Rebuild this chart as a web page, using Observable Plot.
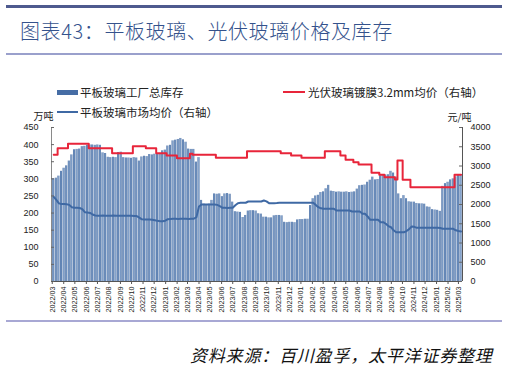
<!DOCTYPE html>
<html><head><meta charset="utf-8">
<script src="https://cdn.jsdelivr.net/npm/d3@7"></script>
<script src="https://cdn.jsdelivr.net/npm/@observablehq/plot@0.6"></script>
<style>
body{margin:0;width:507px;height:371px;position:relative;background:#fff;overflow:hidden;font-family:"Noto Sans CJK SC",sans-serif;}
.abs{position:absolute;}
#topline{left:6px;top:5px;width:496px;height:3px;background:#4e5a8e;}
#title{left:20px;top:17px;font-size:20px;letter-spacing:0.6px;color:#34528c;line-height:28px;white-space:nowrap;font-weight:300;}
#tline{left:6px;top:53px;width:496px;height:1.5px;background:#9aa0cc;}
.lg{font-size:11.5px;color:#222;line-height:14px;white-space:nowrap;}
.sw{position:absolute;}
#chart{left:0;top:100px;}
#bline{left:6px;top:320px;width:496px;height:2px;background:#a8a8d4;}
#src{left:190px;top:343px;font-size:17px;font-style:italic;letter-spacing:0.8px;color:#111;line-height:24px;white-space:nowrap;}
</style>
</head><body>
<div id="topline" class="abs"></div>
<div id="title" class="abs">图表43：平板玻璃、光伏玻璃价格及库存</div>
<div id="tline" class="abs"></div>

<div class="sw" style="left:57px;top:89.5px;width:21px;height:5px;background:#466da5;"></div>
<div class="abs lg" style="left:80px;top:85px;">平板玻璃工厂总库存</div>
<div class="sw" style="left:283px;top:91px;width:22px;height:2px;background:#e8253a;"></div>
<div class="abs lg" style="left:308px;top:85px;">光伏玻璃镀膜3.2mm均价（右轴）</div>
<div class="sw" style="left:57px;top:111px;width:21px;height:2px;background:#3f69a4;"></div>
<div class="abs lg" style="left:80px;top:105px;">平板玻璃市场均价（右轴）</div>

<div id="chart" class="abs"></div>
<div id="bline" class="abs"></div>
<div id="src" class="abs">资料来源：百川盈孚，太平洋证券整理</div>

<script>
const startDate = "2022-03-05";
// 平板玻璃工厂总库存（万吨），周度
const inventory = [
 300,302,308,322,331,338,352,370,385,386,
 387,394,395,398,399,399,398,399,398,376,
 374,363,362,363,362,377,378,362,361,361,
 360,362,361,352,364,366,365,371,370,372,
 371,372,382,384,396,398,411,413,415,418,
 414,407,387,386,386,349,362,237,226,225,
 226,237,256,255,256,248,256,257,255,232,
 204,203,202,187,193,206,207,207,206,198,
 197,188,188,186,186,192,193,193,192,173,
 172,173,173,172,180,181,181,182,182,222,
 242,250,252,260,262,271,281,264,263,261,
 262,261,261,262,260,261,262,270,280,281,
 282,290,296,305,297,298,309,310,311,312,
 322,317,305,256,242,251,242,233,232,232,
 228,227,227,226,218,217,210,209,208,205,
 278,286,290,297,300,306,310,312
];
// 平板玻璃市场均价（元/吨，右轴）
const glassPrice = [
 2200,2120,2030,2010,2010,2005,1990,1930,1915,1915,
 1910,1880,1800,1790,1780,1740,1715,1710,1710,1712,
 1710,1708,1710,1712,1710,1710,1708,1710,1710,1706,
 1705,1700,1700,1660,1615,1610,1608,1610,1605,1590,
 1575,1567,1567,1580,1620,1625,1628,1628,1625,1628,
 1628,1628,1626,1628,1630,1670,1948,2000,2000,2002,
 2000,2000,2000,1990,1960,1914,1914,1912,1914,1914,
 1980,2034,2044,2044,2046,2078,2078,2080,2078,2080,
 2078,2104,2080,2034,2034,2034,2036,2044,2044,2044,
 2044,2044,2044,2044,2044,2046,2044,2044,2044,2044,
 2044,1990,1930,1900,1890,1888,1888,1888,1888,1844,
 1844,1844,1844,1844,1844,1818,1818,1818,1818,1760,
 1760,1690,1602,1602,1602,1602,1540,1540,1500,1440,
 1410,1330,1280,1280,1280,1280,1310,1360,1428,1420,
 1394,1394,1394,1394,1394,1394,1394,1394,1394,1390,
 1370,1370,1370,1370,1368,1330,1310,1300
];
// 光伏玻璃镀膜3.2mm均价（元/吨，右轴）
const pvPrice = [
 3290,3290,3463,3463,3463,3463,3577,3577,3577,3577,
 3577,3577,3577,3577,3463,3463,3463,3463,3463,3463,
 3463,3463,3463,3333,3333,3333,3333,3333,3333,3333,
 3333,3515,3515,3515,3515,3515,3463,3463,3463,3463,
 3333,3333,3333,3333,3273,3273,3273,3273,3203,3203,
 3203,3203,3203,3316,3290,3290,3290,3290,3290,3290,
 3290,3290,3290,3212,3212,3212,3212,3212,3212,3212,
 3212,3212,3212,3212,3212,3385,3385,3385,3385,3385,
 3385,3385,3385,3385,3385,3385,3385,3385,3333,3333,
 3333,3333,3273,3273,3273,3273,3212,3212,3212,3212,
 3212,3212,3212,3212,3212,3385,3385,3385,3385,3385,
 3385,3273,3273,3160,3160,3160,3100,3100,3040,3040,
 3040,3040,3040,2823,2823,2823,2770,2770,2710,2710,
 2710,2710,2650,3143,3143,2640,2640,2640,2450,2450,
 2450,2450,2450,2450,2450,2450,2450,2450,2450,2450,
 2450,2450,2450,2450,2450,2770,2770,2770
];
const leftTicks = [0,50,100,150,200,250,300,350,400,450];
const rightTicks = [0,500,1000,1500,2000,2500,3000,3500,4000];
const xStart = new Date("2022-02-27"), xEnd = new Date("2025-03-12");
const monthTicks = d3.utcMonth.range(new Date("2022-03-01"), new Date("2025-03-02"));
const RATIO = 450 / 4000;

const rows = inventory.map((v, i) => {
  const d = d3.utcDay.offset(new Date(startDate), 7 * i);
  return {date: d, x1: d3.utcHour.offset(d, -84), x2: d3.utcHour.offset(d, 84),
          inv: v, glass: glassPrice[i], pv: pvPrice[i]};
});

const chart = Plot.plot({
  width: 507, height: 220,
  marginLeft: 51, marginRight: 45, marginTop: 27, marginBottom: 39,
  style: {fontFamily: "'Liberation Sans', Arial, sans-serif", fontSize: "9px", color: "#222", background: "transparent", overflow: "visible"},
  x: {type: "utc", domain: [xStart, xEnd], axis: null, label: null},
  y: {domain: [0, 450], axis: null, label: null},
  marks: [
    Plot.rectY(rows, {x1: "x1", x2: "x2", y: "inv", fill: "url(#barGrad)", insetLeft: 0.3, insetRight: 0.3}),
    Plot.line(rows, {x: "date", y: d => d.glass * RATIO, stroke: "#3f69a4", strokeWidth: 2}),
    Plot.line(rows, {x: "date", y: d => d.pv * RATIO, stroke: "#e8253a", strokeWidth: 2, curve: "step"}),
    Plot.ruleX([xStart], {stroke: "#8a8a8a"}),
    Plot.ruleX([xEnd], {stroke: "#555"}),
    Plot.ruleY([0], {stroke: "#555"}),
    Plot.tickY(leftTicks, {y: d => d, insetRight: 408, stroke: "#666"}),
    Plot.tickY(rightTicks, {y: d => d * RATIO, insetLeft: 408, stroke: "#666"}),
    Plot.axisY(leftTicks, {anchor: "left", tickSize: 0, tickPadding: 13, fontSize: 9, label: null}),
    Plot.axisY(rightTicks.map(d => d * RATIO), {anchor: "right", tickSize: 0, tickPadding: 8, fontSize: 9, label: null, tickFormat: d => String(Math.round(d / RATIO))}),
    Plot.axisX(monthTicks, {tickFormat: d3.utcFormat("%Y/%m"), tickRotate: -90, tickSize: 3, tickPadding: 2, fontSize: 7.2, stroke: "#555", label: null}),
    Plot.text(["万吨"], {text: d => d, frameAnchor: "top-left", dx: -18, dy: -14.5, fontFamily: "Noto Sans CJK SC", fontSize: 10}),
    Plot.text(["元/吨"], {text: d => d, frameAnchor: "top-right", dx: 9, dy: -14, fontFamily: "Noto Sans CJK SC", fontSize: 10})
  ]
});

const ns = "http://www.w3.org/2000/svg";
const defs = document.createElementNS(ns, "defs");
defs.innerHTML = '<linearGradient id="barGrad" x1="0" x2="1" y1="0" y2="0">' +
  '<stop offset="0" stop-color="#3c649d"/><stop offset="0.5" stop-color="#86a4cc"/><stop offset="1" stop-color="#3c649d"/></linearGradient>';
chart.insertBefore(defs, chart.firstChild);
document.getElementById("chart").appendChild(chart);
</script>
</body></html>
